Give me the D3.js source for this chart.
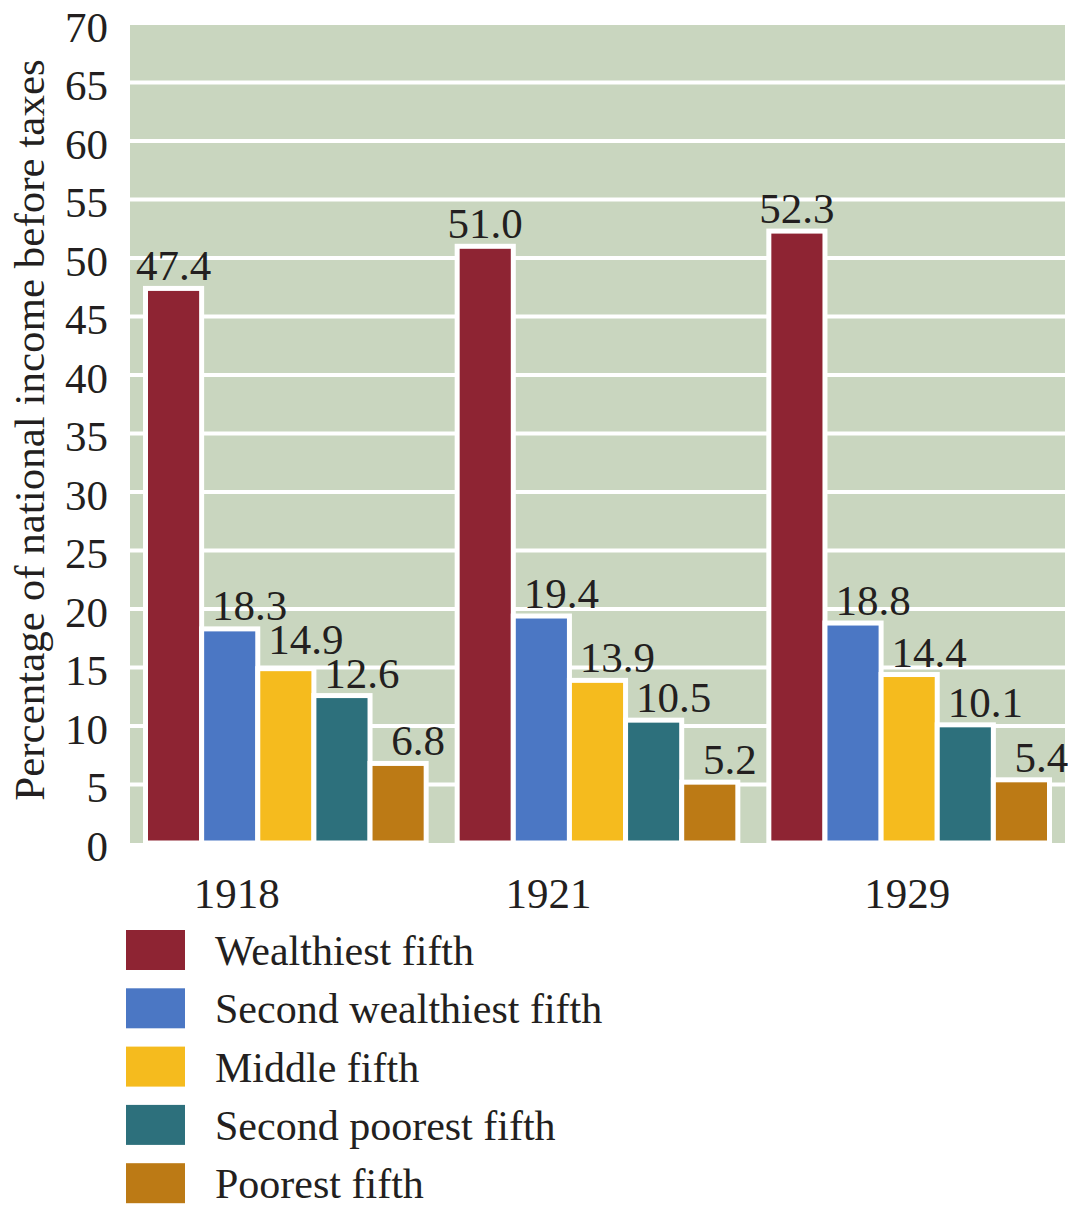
<!DOCTYPE html>
<html lang="en">
<head>
<meta charset="utf-8">
<title>Income share by fifth</title>
<script src="https://cdnjs.cloudflare.com/ajax/libs/d3/7.8.5/d3.min.js"></script>
<style>
  body { margin: 0; background: #fff; }
  text { font-family: "Liberation Serif", "DejaVu Serif", serif; fill: #231f20; }
</style>
</head>
<body>
<div id="chart"></div>
<script>
// data
const years = ["1918", "1921", "1929"];
const fifths = ["Wealthiest fifth", "Second wealthiest fifth", "Middle fifth", "Second poorest fifth", "Poorest fifth"];
const wealthiest = [47.4, 51.0, 52.3];
const secondWealthiest = [18.3, 19.4, 18.8];
const middle = [14.9, 13.9, 14.4];
const secondPoorest = [12.6, 10.5, 10.1];
const poorest = [6.8, 5.2, 5.4];
const yTicks = [0, 5, 10, 15, 20, 25, 30, 35, 40, 45, 50, 55, 60, 65, 70];
const colors = ["#8e2433", "#4b77c4", "#f5bb1e", "#2d707c", "#bc7a15"];

const series = [wealthiest, secondWealthiest, middle, secondPoorest, poorest];
const rows = years.map((yr, i) => ({
  year: yr,
  values: fifths.map((f, k) => ({ key: f, k: k, value: series[k][i] }))
}));

const W = 1068, H = 1208;
const plotLeft = 130, plotRight = 1065, plotTop = 24, plotBottom = 843;

const svg = d3.select("#chart").append("svg")
  .attr("width", W)
  .attr("height", H);

const x0 = d3.scaleBand().domain(years).range([plotLeft, plotRight]);
const x1 = d3.scaleBand().domain(fifths).range([15.5, x0.bandwidth() - 15.5]);
const y = d3.scaleLinear().domain([0, 70]).range([plotBottom, plotTop]);
const color = d3.scaleOrdinal().domain(fifths).range(colors);
const fmt = d3.format(".1f");

// label baselines: 8px above the bar, lifted when the next label to the right is too close
const minGap = 34;
rows.forEach(r => {
  r.values.forEach(v => { v.ly = y(v.value) - 8; });
  for (let k = r.values.length - 2; k >= 1; k--) {
    const next = r.values[k + 1];
    if (next.ly - r.values[k].ly < minGap) r.values[k].ly = next.ly - minGap;
  }
});

// plot background
svg.append("rect")
  .attr("x", plotLeft).attr("y", y(70) + 1)
  .attr("width", plotRight - plotLeft).attr("height", y(0) - y(70) - 1)
  .attr("fill", "#c9d6bf");

// grid lines
svg.append("g")
  .selectAll("line")
  .data(yTicks.filter(t => t > 0 && t < 70))
  .join("line")
  .attr("x1", plotLeft).attr("x2", plotRight)
  .attr("y1", d => y(d)).attr("y2", d => y(d))
  .attr("stroke", "#fff")
  .attr("stroke-width", 4);

// y axis labels
const yAxis = svg.append("g")
  .attr("transform", `translate(${plotLeft},0)`)
  .call(d3.axisLeft(y).tickValues(yTicks).tickSize(0).tickPadding(22));
yAxis.select(".domain").remove();
yAxis.selectAll("text")
  .attr("font-family", null)
  .style("font-size", "43px")
  .attr("dy", "0.4em")
  .attr("fill", "#231f20");

svg.append("text")
  .attr("transform", "rotate(-90)")
  .attr("x", -430)
  .attr("y", 44)
  .attr("text-anchor", "middle")
  .style("font-size", "43px")
  .text("Percentage of national income before taxes");

// bars
const group = svg.append("g")
  .selectAll("g")
  .data(rows)
  .join("g")
  .attr("transform", d => `translate(${x0(d.year)},0)`);

group.selectAll("rect")
  .data(d => d.values)
  .join("rect")
  .attr("x", d => x1(d.key))
  .attr("width", x1.bandwidth())
  .attr("y", d => y(d.value))
  .attr("height", d => y(0) - y(d.value))
  .attr("fill", d => color(d.key))
  .attr("stroke", "#fff")
  .attr("stroke-width", 5);

group.selectAll("text.val")
  .data(d => d.values)
  .join("text")
  .attr("class", "val")
  .attr("x", d => x1(d.key) + x1.bandwidth() / 2 + (d.k === 0 ? 0 : 20))
  .attr("y", d => d.ly)
  .attr("text-anchor", "middle")
  .style("font-size", "43px")
  .text(d => fmt(d.value));

// year labels (the first two sit left of their group centre in the original)
const yearShift = [-49, -49, -2];
svg.append("g")
  .selectAll("text")
  .data(years)
  .join("text")
  .attr("x", (d, i) => x0(d) + x0.bandwidth() / 2 + yearShift[i])
  .attr("y", 908)
  .attr("text-anchor", "middle")
  .style("font-size", "43px")
  .text(d => d);

// legend
const legend = svg.append("g")
  .attr("transform", "translate(126,930)")
  .selectAll("g")
  .data(fifths)
  .join("g")
  .attr("transform", (d, i) => `translate(0,${i * 58.3})`);

legend.append("rect")
  .attr("width", 59)
  .attr("height", 40)
  .attr("fill", d => color(d));

legend.append("text")
  .attr("x", 89)
  .attr("y", 35)
  .style("font-size", "42px")
  .text(d => d);
</script>
</body>
</html>
